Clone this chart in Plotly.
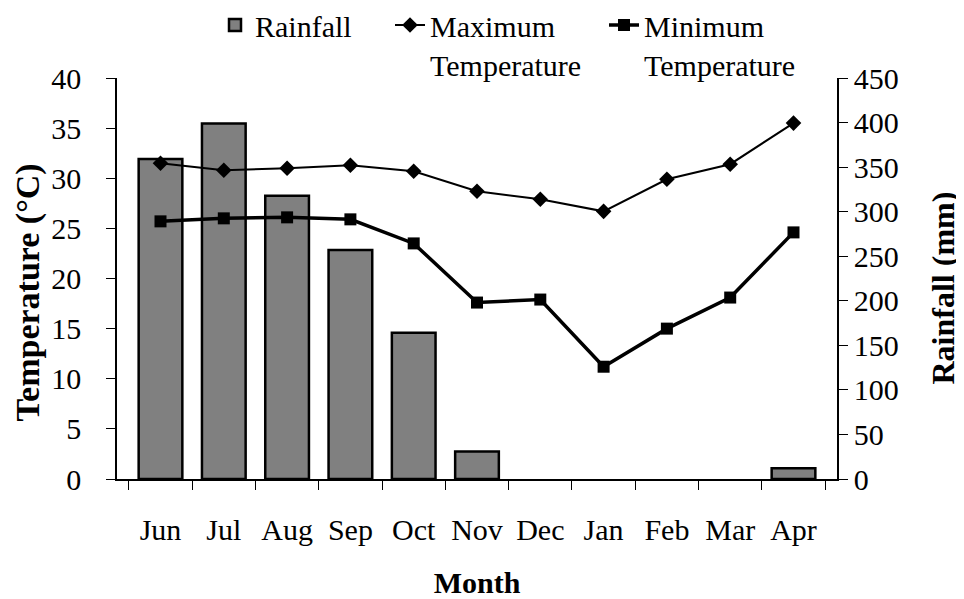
import plotly.graph_objects as go

months = ["Jun", "Jul", "Aug", "Sep", "Oct", "Nov", "Dec", "Jan", "Feb", "Mar", "Apr"]
rainfall_mm = [359, 399, 318, 257, 164, 31, 0, 0, 0, 0, 12]
max_temp = [31.5, 30.8, 31.0, 31.3, 30.7, 28.7, 27.9, 26.7, 29.9, 31.4, 35.5]
min_temp = [25.7, 26.0, 26.1, 25.9, 23.5, 17.6, 17.9, 11.2, 15.0, 18.1, 24.6]

temp_ticks = [0, 5, 10, 15, 20, 25, 30, 35, 40]
rain_ticks = [0, 50, 100, 150, 200, 250, 300, 350, 400, 450]

FONT = "Liberation Serif"
W, H = 956, 591  # page body has an 8px default margin
L, R, T, B = 109, 127, 70, 120
PW, PH = W - L - R, H - T - B

fig = go.Figure()
fig.add_trace(go.Bar(
    x=months, y=rainfall_mm, name="Rainfall", yaxis="y", legend="legend",
    marker=dict(color="#808080",
                line=dict(color="black", width=[2.5 if v > 0 else 0 for v in rainfall_mm])),
    width=0.69,
))
fig.add_trace(go.Scatter(
    x=months, y=max_temp, name="Maximum<br>Temperature", yaxis="y2", legend="legend2",
    mode="lines+markers",
    line=dict(color="black", width=2),
    marker=dict(symbol="diamond", size=12, color="black"),
))
fig.add_trace(go.Scatter(
    x=months, y=min_temp, name="Minimum<br>Temperature", yaxis="y2", legend="legend3",
    mode="lines+markers",
    line=dict(color="black", width=3.5),
    marker=dict(symbol="square", size=12, color="black"),
))

leg_y = 1 + (T + 9) / PH
leg_common = dict(xref="container", yref="paper", xanchor="left", yanchor="top",
                  y=leg_y, valign="top", font=dict(size=30), itemwidth=30,
                  bgcolor="rgba(0,0,0,0)")

fig.update_layout(
    width=W, height=H,
    margin=dict(l=L, r=R, t=T, b=B, autoexpand=False),
    paper_bgcolor="white", plot_bgcolor="white",
    font=dict(family=FONT, size=30, color="black"),
    showlegend=True,
    legend=dict(x=207 / W, **leg_common),
    legend2=dict(x=382 / W, **leg_common),
    legend3=dict(x=596 / W, **leg_common),
    xaxis=dict(
        type="category", showline=True, linecolor="black", linewidth=1.5,
        ticks="outside", tickson="boundaries", ticklen=9, tickcolor="black",
        ticklabelstandoff=23, automargin=False,
        showgrid=False, zeroline=False,
        title=dict(text="<b>Month</b>", font=dict(size=30), standoff=31),
        tickfont=dict(size=30),
    ),
    yaxis=dict(
        side="right", range=[0, 450], tickvals=rain_ticks,
        showline=True, linecolor="black", linewidth=1.5,
        ticks="outside", ticklen=9, tickcolor="black",
        tickprefix="\u2002", automargin=False,
        showgrid=False, zeroline=False,
        tickfont=dict(size=30),
    ),
    yaxis2=dict(
        overlaying="y", side="left", range=[0, 40], tickvals=temp_ticks,
        showline=True, linecolor="black", linewidth=1.5,
        ticks="outside", ticklen=9, tickcolor="black",
        ticklabelstandoff=19, automargin=False,
        showgrid=False, zeroline=False,
        tickfont=dict(size=30),
    ),
    annotations=[
        dict(text="<b>Temperature (°C)</b>", xref="paper", yref="paper",
             x=(19.5 - L) / PW, y=(T + PH - 285) / PH, textangle=-90,
             xanchor="center", yanchor="middle", showarrow=False,
             font=dict(size=34, family=FONT)),
        dict(text="<b>Rainfall (mm)</b>", xref="paper", yref="paper",
             x=(934 - L) / PW, y=(T + PH - 280.5) / PH, textangle=-90,
             xanchor="center", yanchor="middle", showarrow=False,
             font=dict(size=32, family=FONT)),
    ],
)

fig.write_html("out.html")
